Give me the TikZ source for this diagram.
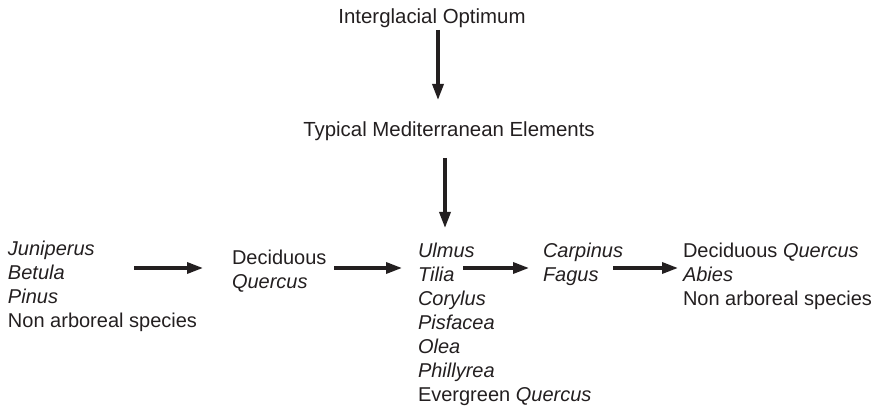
\documentclass[tikz,border=0pt]{standalone}
\usepackage{fontspec}
\setmainfont{Liberation Sans}
\usetikzlibrary{arrows.meta,calc}
\definecolor{ink}{RGB}{35,31,32}
\begin{document}
\begin{tikzpicture}[x=1pt,y=-1pt,
  txt/.style={inner sep=0pt,outer sep=0pt,text=ink,font=\fontsize{20}{24}\selectfont,align=left},
  arr/.style={draw=ink,line width=3.3pt,-{Triangle[length=16pt,width=11pt]}}]
\useasboundingbox (0,0) rectangle (875,406);
\node[txt,anchor=base,font=\fontsize{20.4}{24}\selectfont] (top) at (432,24) {Interglacial Optimum};
\node[txt,anchor=base,font=\fontsize{20.4}{24}\selectfont] (mte) at (449,137) {Typical Mediterranean Elements};
\node[txt,anchor=north west] (left) at (8,241) {\textit{Juniperus}\\\textit{Betula}\\\textit{Pinus}\\Non arboreal species};
\node[txt,anchor=north west] (dec) at (232,250) {Deciduous\\\textit{Quercus}};
\node[txt,anchor=north west] (mid) at (418,243) {\textit{Ulmus}\\\textit{Tilia}\\\textit{Corylus}\\\textit{Pisfacea}\\\textit{Olea}\\\textit{Phillyrea}\\Evergreen \textit{Quercus}};
\node[txt,anchor=north west] (carp) at (543,243) {\textit{Carpinus}\\\textit{Fagus}};
\node[txt,anchor=north west] (right) at (683,243) {Deciduous \textit{Quercus}\\\textit{Abies}\\Non arboreal species};
\coordinate (row) at (0,268);
\coordinate (v1) at (438,0);
\coordinate (v2) at (445,0);
\draw[arr] ($(top.base -| v1)+(0,6)$) -- ($(mte.base -| v1)+(0,-37)$);
\draw[arr] ($(mte.base -| v2)+(0,21)$) -- ($(mid.north -| v2)+(0,-15)$);
\draw[arr] ($(dec.west |- row)+(-98,0)$) -- ($(dec.west |- row)+(-29,0)$);
\draw[arr] ($(mid.west |- row)+(-84,0)$) -- ($(mid.west |- row)+(-16,0)$);
\draw[arr] ($(carp.west |- row)+(-80,0)$) -- ($(carp.west |- row)+(-14,0)$);
\draw[arr] ($(right.west |- row)+(-70,0)$) -- ($(right.west |- row)+(-5,0)$);
\end{tikzpicture}
\end{document}
